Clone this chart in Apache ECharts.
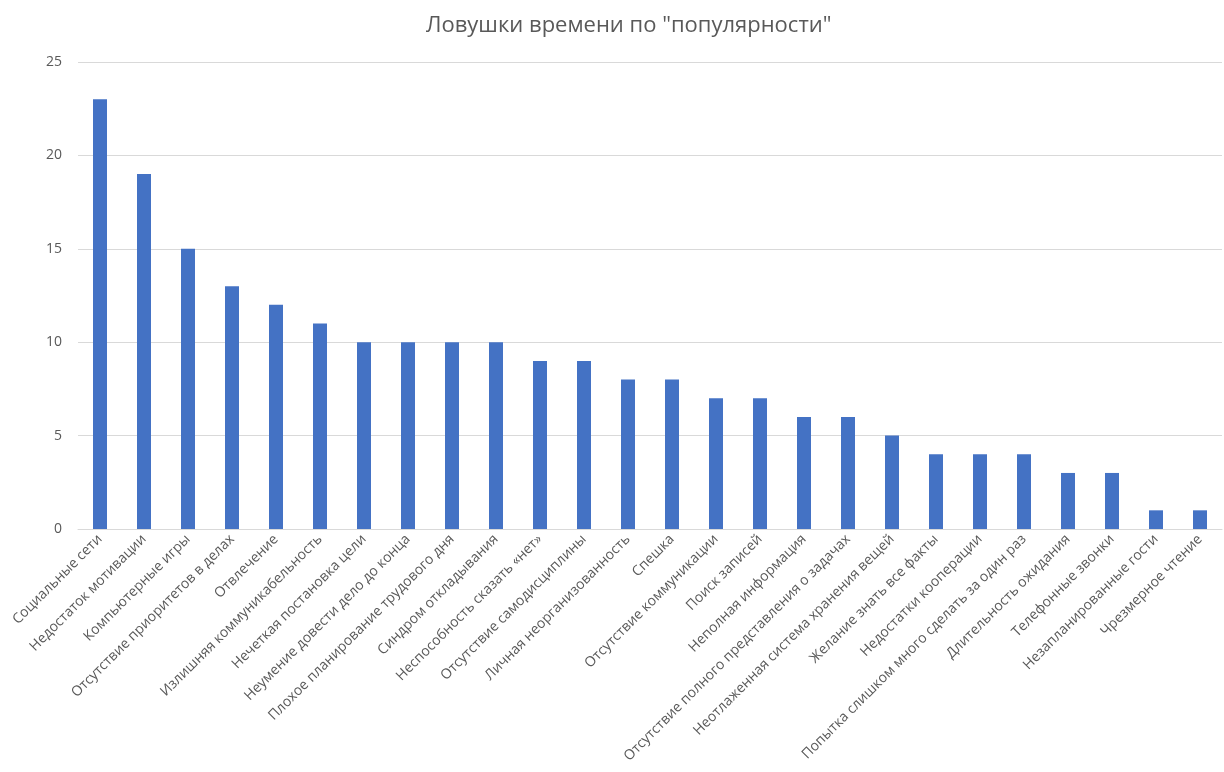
<!DOCTYPE html>
<html><head><meta charset="utf-8">
<script src="https://cdn.jsdelivr.net/npm/echarts@6/dist/echarts.min.js"></script>
<style>html,body{margin:0;padding:0;background:#fff}#c{width:1224px;height:772px}</style>
</head><body><div id="c"></div>
<script>
const categories = ["Социальные сети","Недостаток мотивации","Компьютерные игры","Отсутствие приоритетов в делах","Отвлечение","Излишняя коммуникабельность","Нечеткая постановка цели","Неумение довести дело до конца","Плохое планирование трудового дня","Синдром откладывания","Неспособность сказать «нет»","Отсутствие самодисциплины","Личная неорганизованность","Спешка","Отсутствие коммуникации","Поиск записей","Неполная информация","Отсутствие полного представления о задачах","Неотлаженная система хранения вещей","Желание знать все факты","Недостатки кооперации","Попытка слишком много сделать за один раз","Длительность ожидания","Телефонные звонки","Незапланированные гости","Чрезмерное чтение"];
const values = [23,19,15,13,12,11,10,10,10,10,9,9,8,8,7,7,6,6,5,4,4,4,3,3,1,1];
const titleText = 'Ловушки времени по "популярности"';
const chart = echarts.init(document.getElementById('c'));
chart.setOption({
  animation:false,
  textStyle:{fontFamily:'"Open Sans", "Noto Sans", sans-serif'},
  title:{text:titleText,left:421,top:10,textStyle:{fontSize:22,fontWeight:'normal',color:'#595959',fontFamily:'"Open Sans", "Noto Sans", sans-serif'}},
  grid:{left:78,right:2,top:62,bottom:243,containLabel:false},
  xAxis:{type:'category',data:categories,
    axisLine:{lineStyle:{color:'#d9d9d9'}},axisTick:{show:false},
    axisLabel:{rotate:45,interval:0,color:'#595959',fontSize:14,margin:8}},
  yAxis:{type:'value',min:0,max:25,interval:5,
    axisLine:{show:false},axisTick:{show:false},
    splitLine:{lineStyle:{color:'#d9d9d9'}},
    axisLabel:{color:'#595959',fontSize:14,margin:16}},
  series:[{type:'bar',data:values,barWidth:14,itemStyle:{color:'#4472C4'}}]
});
</script></body></html>
